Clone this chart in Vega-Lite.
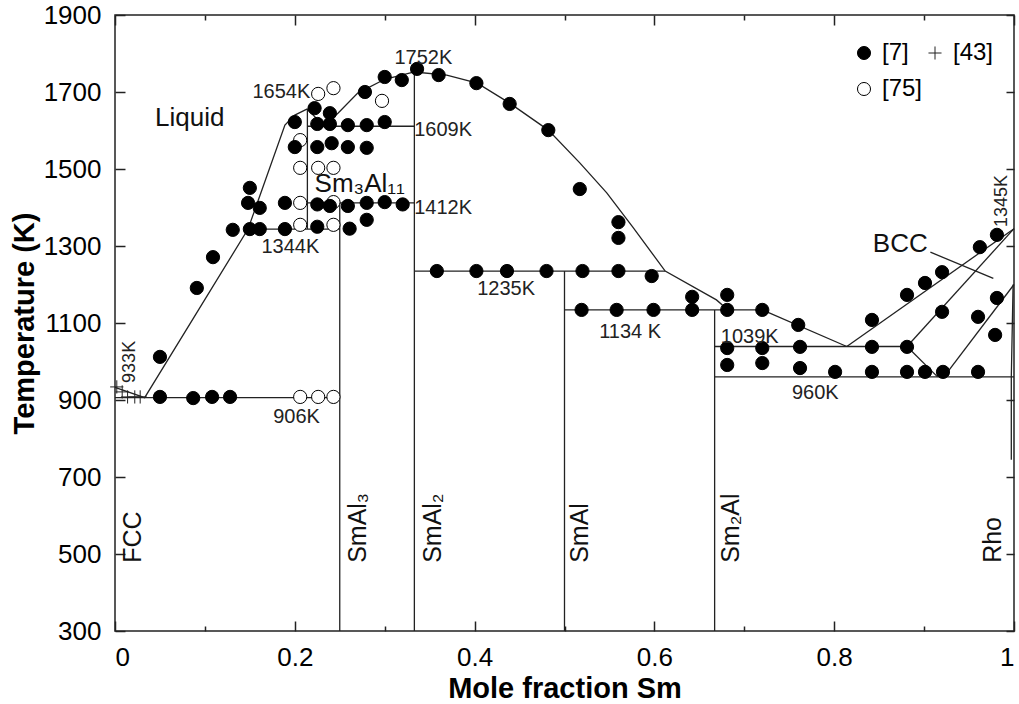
{
  "$schema": "https://vega.github.io/schema/vega-lite/v6.json",
  "width": 899,
  "height": 616,
  "autosize": {"type": "none"},
  "padding": {"left": 115, "top": 15, "right": 5, "bottom": 73},
  "background": "white",
  "config": {
    "view": {"stroke": "#222", "strokeWidth": 1.5},
    "font": "Liberation Sans",
    "axis": {"domain": false, "grid": false, "tickColor": "#222", "tickWidth": 1.5, "labelColor": "black", "titleColor": "black", "labelFont": "Liberation Sans", "titleFont": "Liberation Sans", "zindex": 1}
  },
  "datasets": {
    "lines": [
      {"seg": "liqL", "ord": 1, "x": 0, "T": 933}, {"seg": "liqL", "ord": 2, "x": 0.033, "T": 906}, {"seg": "liqL", "ord": 3, "x": 0.09, "T": 1123}, {"seg": "liqL", "ord": 4, "x": 0.148, "T": 1344}, {"seg": "liqL", "ord": 5, "x": 0.189, "T": 1614}, {"seg": "liqL", "ord": 6, "x": 0.2, "T": 1640}, {"seg": "liqL", "ord": 7, "x": 0.214, "T": 1656},
      {"seg": "liqM", "ord": 1, "x": 0.214, "T": 1656}, {"seg": "liqM", "ord": 2, "x": 0.232, "T": 1612}, {"seg": "liqM", "ord": 3, "x": 0.248, "T": 1645}, {"seg": "liqM", "ord": 4, "x": 0.27, "T": 1697}, {"seg": "liqM", "ord": 5, "x": 0.3, "T": 1733}, {"seg": "liqM", "ord": 6, "x": 0.333, "T": 1752},
      {"seg": "liqR", "ord": 1, "x": 0.333, "T": 1752}, {"seg": "liqR", "ord": 2, "x": 0.369, "T": 1744}, {"seg": "liqR", "ord": 3, "x": 0.403, "T": 1723}, {"seg": "liqR", "ord": 4, "x": 0.439, "T": 1671}, {"seg": "liqR", "ord": 5, "x": 0.482, "T": 1601}, {"seg": "liqR", "ord": 6, "x": 0.517, "T": 1516}, {"seg": "liqR", "ord": 7, "x": 0.547, "T": 1438}, {"seg": "liqR", "ord": 8, "x": 0.576, "T": 1349}, {"seg": "liqR", "ord": 9, "x": 0.612, "T": 1235}, {"seg": "liqR", "ord": 10, "x": 0.669, "T": 1160}, {"seg": "liqR", "ord": 11, "x": 0.681, "T": 1136},
      {"seg": "liqR2", "ord": 1, "x": 0.72, "T": 1134}, {"seg": "liqR2", "ord": 2, "x": 0.814, "T": 1039},
      {"seg": "h906", "ord": 1, "x": 0, "T": 906}, {"seg": "h906", "ord": 2, "x": 0.25, "T": 906},
      {"seg": "h1344", "ord": 1, "x": 0.148, "T": 1344}, {"seg": "h1344", "ord": 2, "x": 0.25, "T": 1344},
      {"seg": "h1412", "ord": 1, "x": 0.214, "T": 1412}, {"seg": "h1412", "ord": 2, "x": 0.333, "T": 1412},
      {"seg": "h1609", "ord": 1, "x": 0.214, "T": 1611}, {"seg": "h1609", "ord": 2, "x": 0.333, "T": 1611},
      {"seg": "h1235", "ord": 1, "x": 0.333, "T": 1235}, {"seg": "h1235", "ord": 2, "x": 0.612, "T": 1235},
      {"seg": "h1134", "ord": 1, "x": 0.5, "T": 1134}, {"seg": "h1134", "ord": 2, "x": 0.72, "T": 1134},
      {"seg": "h1039", "ord": 1, "x": 0.667, "T": 1039}, {"seg": "h1039", "ord": 2, "x": 0.881, "T": 1039},
      {"seg": "h960", "ord": 1, "x": 0.667, "T": 960}, {"seg": "h960", "ord": 2, "x": 1, "T": 960},
      {"seg": "vSm3Al11", "ord": 1, "x": 0.214, "T": 1344}, {"seg": "vSm3Al11", "ord": 2, "x": 0.214, "T": 1656},
      {"seg": "vSmAl3", "ord": 1, "x": 0.25, "T": 300}, {"seg": "vSmAl3", "ord": 2, "x": 0.25, "T": 1412},
      {"seg": "vSmAl2", "ord": 1, "x": 0.333, "T": 300}, {"seg": "vSmAl2", "ord": 2, "x": 0.333, "T": 1752},
      {"seg": "vSmAl", "ord": 1, "x": 0.5, "T": 300}, {"seg": "vSmAl", "ord": 2, "x": 0.5, "T": 1235},
      {"seg": "vSm2Al", "ord": 1, "x": 0.667, "T": 300}, {"seg": "vSm2Al", "ord": 2, "x": 0.667, "T": 1134},
      {"seg": "bccL", "ord": 1, "x": 0.814, "T": 1039}, {"seg": "bccL", "ord": 2, "x": 1, "T": 1345},
      {"seg": "bccS", "ord": 1, "x": 0.881, "T": 1039}, {"seg": "bccS", "ord": 2, "x": 1, "T": 1345},
      {"seg": "d1", "ord": 1, "x": 0.881, "T": 1039}, {"seg": "d1", "ord": 2, "x": 0.915, "T": 960},
      {"seg": "d2", "ord": 1, "x": 0.922, "T": 960}, {"seg": "d2", "ord": 2, "x": 1, "T": 1200},
      {"seg": "rho", "ord": 1, "x": 0.999, "T": 1200}, {"seg": "rho", "ord": 2, "x": 0.997, "T": 960}, {"seg": "rho", "ord": 3, "x": 0.997, "T": 745},
      {"seg": "bccptr", "ord": 1, "x": 0.907, "T": 1284}, {"seg": "bccptr", "ord": 2, "x": 0.977, "T": 1216}
    ],
    "pts": [
      {"src": "[75]", "x": 0.226, "T": 1695}, {"src": "[75]", "x": 0.243, "T": 1710}, {"src": "[75]", "x": 0.297, "T": 1677}, {"src": "[75]", "x": 0.206, "T": 1575}, {"src": "[75]", "x": 0.206, "T": 1503}, {"src": "[75]", "x": 0.226, "T": 1503}, {"src": "[75]", "x": 0.243, "T": 1503}, {"src": "[75]", "x": 0.206, "T": 1412}, {"src": "[75]", "x": 0.243, "T": 1414}, {"src": "[75]", "x": 0.206, "T": 1355}, {"src": "[75]", "x": 0.243, "T": 1355}, {"src": "[75]", "x": 0.206, "T": 908}, {"src": "[75]", "x": 0.226, "T": 908}, {"src": "[75]", "x": 0.243, "T": 908},
      {"src": "[43]", "x": 0.002, "T": 934}, {"src": "[43]", "x": 0.008, "T": 921}, {"src": "[43]", "x": 0.014, "T": 908}, {"src": "[43]", "x": 0.022, "T": 908}, {"src": "[43]", "x": 0.028, "T": 908},
      {"src": "[7]", "x": 0.05, "T": 1012}, {"src": "[7]", "x": 0.091, "T": 1191}, {"src": "[7]", "x": 0.109, "T": 1271}, {"src": "[7]", "x": 0.131, "T": 1342},
      {"src": "[7]", "x": 0.15, "T": 1344}, {"src": "[7]", "x": 0.161, "T": 1344}, {"src": "[7]", "x": 0.189, "T": 1344}, {"src": "[7]", "x": 0.225, "T": 1350}, {"src": "[7]", "x": 0.261, "T": 1345}, {"src": "[7]", "x": 0.28, "T": 1368},
      {"src": "[7]", "x": 0.148, "T": 1412}, {"src": "[7]", "x": 0.161, "T": 1399}, {"src": "[7]", "x": 0.189, "T": 1412}, {"src": "[7]", "x": 0.225, "T": 1408}, {"src": "[7]", "x": 0.239, "T": 1404}, {"src": "[7]", "x": 0.259, "T": 1404}, {"src": "[7]", "x": 0.28, "T": 1412}, {"src": "[7]", "x": 0.3, "T": 1414}, {"src": "[7]", "x": 0.32, "T": 1408},
      {"src": "[7]", "x": 0.15, "T": 1451},
      {"src": "[7]", "x": 0.2, "T": 1622}, {"src": "[7]", "x": 0.225, "T": 1617}, {"src": "[7]", "x": 0.239, "T": 1617}, {"src": "[7]", "x": 0.259, "T": 1614}, {"src": "[7]", "x": 0.28, "T": 1614}, {"src": "[7]", "x": 0.3, "T": 1622},
      {"src": "[7]", "x": 0.222, "T": 1658}, {"src": "[7]", "x": 0.239, "T": 1645},
      {"src": "[7]", "x": 0.2, "T": 1557}, {"src": "[7]", "x": 0.225, "T": 1557}, {"src": "[7]", "x": 0.241, "T": 1567}, {"src": "[7]", "x": 0.259, "T": 1557}, {"src": "[7]", "x": 0.28, "T": 1555},
      {"src": "[7]", "x": 0.278, "T": 1700}, {"src": "[7]", "x": 0.3, "T": 1739}, {"src": "[7]", "x": 0.319, "T": 1731}, {"src": "[7]", "x": 0.336, "T": 1760}, {"src": "[7]", "x": 0.36, "T": 1744},
      {"src": "[7]", "x": 0.402, "T": 1723}, {"src": "[7]", "x": 0.439, "T": 1669}, {"src": "[7]", "x": 0.482, "T": 1601}, {"src": "[7]", "x": 0.517, "T": 1448}, {"src": "[7]", "x": 0.56, "T": 1362}, {"src": "[7]", "x": 0.56, "T": 1321},
      {"src": "[7]", "x": 0.358, "T": 1235}, {"src": "[7]", "x": 0.402, "T": 1235}, {"src": "[7]", "x": 0.436, "T": 1235}, {"src": "[7]", "x": 0.48, "T": 1235}, {"src": "[7]", "x": 0.52, "T": 1235}, {"src": "[7]", "x": 0.56, "T": 1235}, {"src": "[7]", "x": 0.597, "T": 1222},
      {"src": "[7]", "x": 0.519, "T": 1134}, {"src": "[7]", "x": 0.558, "T": 1134}, {"src": "[7]", "x": 0.599, "T": 1134}, {"src": "[7]", "x": 0.642, "T": 1134}, {"src": "[7]", "x": 0.642, "T": 1168}, {"src": "[7]", "x": 0.681, "T": 1173}, {"src": "[7]", "x": 0.681, "T": 1134}, {"src": "[7]", "x": 0.72, "T": 1134}, {"src": "[7]", "x": 0.76, "T": 1095},
      {"src": "[7]", "x": 0.681, "T": 1035}, {"src": "[7]", "x": 0.681, "T": 991}, {"src": "[7]", "x": 0.72, "T": 1035}, {"src": "[7]", "x": 0.72, "T": 996}, {"src": "[7]", "x": 0.762, "T": 1038}, {"src": "[7]", "x": 0.762, "T": 983}, {"src": "[7]", "x": 0.801, "T": 973}, {"src": "[7]", "x": 0.842, "T": 1108}, {"src": "[7]", "x": 0.842, "T": 1038}, {"src": "[7]", "x": 0.842, "T": 973},
      {"src": "[7]", "x": 0.881, "T": 1173}, {"src": "[7]", "x": 0.881, "T": 1038}, {"src": "[7]", "x": 0.881, "T": 973}, {"src": "[7]", "x": 0.901, "T": 1204}, {"src": "[7]", "x": 0.901, "T": 973}, {"src": "[7]", "x": 0.92, "T": 1232}, {"src": "[7]", "x": 0.92, "T": 1129}, {"src": "[7]", "x": 0.921, "T": 973},
      {"src": "[7]", "x": 0.962, "T": 1297}, {"src": "[7]", "x": 0.96, "T": 1116}, {"src": "[7]", "x": 0.96, "T": 973}, {"src": "[7]", "x": 0.981, "T": 1329}, {"src": "[7]", "x": 0.981, "T": 1165}, {"src": "[7]", "x": 0.979, "T": 1069},
      {"src": "[7]", "x": 0.05, "T": 908}, {"src": "[7]", "x": 0.087, "T": 905}, {"src": "[7]", "x": 0.108, "T": 908}, {"src": "[7]", "x": 0.128, "T": 908}
    ],
    "smallLabels": [
      {"label": "1654K", "x": 0.185, "T": 1700}, {"label": "1752K", "x": 0.343, "T": 1788}, {"label": "1609K", "x": 0.365, "T": 1601}, {"label": "1412K", "x": 0.365, "T": 1399}, {"label": "1344K", "x": 0.195, "T": 1297}, {"label": "1235K", "x": 0.435, "T": 1188}, {"label": "1134 K", "x": 0.573, "T": 1077}, {"label": "1039K", "x": 0.706, "T": 1064}, {"label": "960K", "x": 0.779, "T": 918}, {"label": "906K", "x": 0.202, "T": 856}
    ],
    "phaseLabels": [
      {"label": "Liquid", "x": 0.0445, "T": 1612}, {"label": "Sm₃Al₁₁", "x": 0.222, "T": 1441}, {"label": "BCC", "x": 0.843, "T": 1284}
    ],
    "vertLabels": [
      {"label": "FCC", "x": 0.02, "T": 477}, {"label": "SmAl₃", "x": 0.27, "T": 477}, {"label": "SmAl₂", "x": 0.354, "T": 477}, {"label": "SmAl", "x": 0.517, "T": 477}, {"label": "Sm₂Al", "x": 0.685, "T": 477}, {"label": "Rho", "x": 0.977, "T": 477}
    ],
    "vertSmall": [
      {"label": "933K", "x": 0.017, "T": 999}, {"label": "1345K", "x": 0.987, "T": 1417}
    ]
  },
  "layer": [
    {
      "data": {"name": "lines"},
      "mark": {"type": "line", "color": "#222", "strokeWidth": 1.3},
      "encoding": {
        "x": {"field": "x", "type": "quantitative", "scale": {"domain": [0, 1], "nice": false, "zero": false},
              "axis": {"orient": "bottom", "values": [0, 0.2, 0.4, 0.6, 0.8, 1], "format": "~g", "ticks": false, "labelPadding": 13, "labelFontSize": 26, "title": "Mole fraction Sm", "titleFontSize": 29, "titleFontWeight": "bold", "titleBaseline": "alphabetic", "titleY": 66}},
        "y": {"field": "T", "type": "quantitative", "scale": {"domain": [300, 1900], "nice": false, "zero": false},
              "axis": {"orient": "left", "values": [300, 500, 700, 900, 1100, 1300, 1500, 1700, 1900], "format": "d", "ticks": false, "labelPadding": 14, "labelFontSize": 26, "title": "Temperature (K)", "titleFontSize": 29, "titleFontWeight": "bold", "titleBaseline": "alphabetic", "titleX": -82}},
        "detail": {"field": "seg", "type": "nominal"},
        "order": {"field": "ord", "type": "quantitative"}
      }
    },
    {
      "data": {"name": "pts"},
      "mark": {"type": "point", "filled": true, "size": 175, "strokeWidth": 1, "opacity": 1},
      "encoding": {
        "x": {"field": "x", "type": "quantitative", "scale": {"domain": [0, 1], "nice": false, "zero": false},
              "axis": {"orient": "bottom", "offset": -10, "values": [0, 0.2, 0.4, 0.6, 0.8, 1], "tickSize": 10, "labels": false, "title": null}},
        "y": {"field": "T", "type": "quantitative", "scale": {"domain": [300, 1900], "nice": false, "zero": false},
              "axis": {"orient": "left", "offset": -10, "values": [300, 500, 700, 900, 1100, 1300, 1500, 1700, 1900], "tickSize": 10, "labels": false, "title": null}},
        "shape": {"field": "src", "type": "nominal", "scale": {"domain": ["[7]", "[75]", "[43]"], "range": ["circle", "circle", "M-1,0H1M0,-1V1"]},
                  "legend": {"orient": "none", "legendX": 737, "legendY": 26, "columns": 2, "title": null, "labelFontSize": 24, "labelFont": "Liberation Sans", "labelColor": "black", "symbolSize": 170, "symbolStrokeWidth": 1, "labelOffset": 6, "columnPadding": 0, "rowPadding": 12, "padding": 0}},
        "fill": {"field": "src", "type": "nominal", "scale": {"domain": ["[7]", "[75]", "[43]"], "range": ["black", "white", "transparent"]},
                 "legend": {"orient": "none", "legendX": 737, "legendY": 26, "columns": 2, "title": null, "labelFontSize": 24, "labelFont": "Liberation Sans", "labelColor": "black", "symbolSize": 170, "symbolStrokeWidth": 1, "labelOffset": 6, "columnPadding": 0, "rowPadding": 12, "padding": 0}},
        "stroke": {"field": "src", "type": "nominal", "scale": {"domain": ["[7]", "[75]", "[43]"], "range": ["black", "black", "#222"]},
                 "legend": {"orient": "none", "legendX": 737, "legendY": 26, "columns": 2, "title": null, "labelFontSize": 24, "labelFont": "Liberation Sans", "labelColor": "black", "symbolSize": 170, "symbolStrokeWidth": 1, "labelOffset": 6, "columnPadding": 0, "rowPadding": 12, "padding": 0}}
      }
    },
    {
      "data": {"name": "smallLabels"},
      "mark": {"type": "text", "font": "Liberation Sans", "fontSize": 20, "align": "center", "baseline": "middle", "color": "#222"},
      "encoding": {
        "x": {"field": "x", "type": "quantitative", "scale": {"domain": [0, 1], "nice": false, "zero": false},
              "axis": {"orient": "top", "offset": -10, "values": [0, 0.2, 0.4, 0.6, 0.8, 1], "tickSize": 10, "labels": false, "title": null}},
        "y": {"field": "T", "type": "quantitative", "scale": {"domain": [300, 1900], "nice": false, "zero": false},
              "axis": {"orient": "right", "offset": -8, "values": [300, 500, 700, 900, 1100, 1300, 1500, 1700, 1900], "tickSize": 8, "labels": false, "title": null}},
        "text": {"field": "label", "type": "nominal"}
      }
    },
    {
      "data": {"name": "phaseLabels"},
      "mark": {"type": "text", "font": "Liberation Sans", "fontSize": 26, "align": "left", "baseline": "alphabetic", "color": "#111"},
      "encoding": {
        "x": {"field": "x", "type": "quantitative", "scale": {"domain": [0, 1], "nice": false, "zero": false},
              "axis": {"orient": "bottom", "offset": -5, "values": [0.1, 0.3, 0.5, 0.7, 0.9], "tickSize": 5, "labels": false, "title": null}},
        "y": {"field": "T", "type": "quantitative", "scale": {"domain": [300, 1900], "nice": false, "zero": false}, "axis": null},
        "text": {"field": "label", "type": "nominal"}
      }
    },
    {
      "data": {"name": "vertLabels"},
      "mark": {"type": "text", "font": "Liberation Sans", "fontSize": 25, "angle": 270, "align": "left", "baseline": "middle", "color": "#111"},
      "encoding": {
        "x": {"field": "x", "type": "quantitative", "scale": {"domain": [0, 1], "nice": false, "zero": false},
              "axis": {"orient": "top", "offset": -5, "values": [0.1, 0.3, 0.5, 0.7, 0.9], "tickSize": 5, "labels": false, "title": null}},
        "y": {"field": "T", "type": "quantitative", "scale": {"domain": [300, 1900], "nice": false, "zero": false}, "axis": null},
        "text": {"field": "label", "type": "nominal"}
      }
    },
    {
      "data": {"name": "vertSmall"},
      "mark": {"type": "text", "font": "Liberation Sans", "fontSize": 18, "angle": 270, "align": "center", "baseline": "middle", "color": "#222"},
      "encoding": {
        "x": {"field": "x", "type": "quantitative", "scale": {"domain": [0, 1], "nice": false, "zero": false}, "axis": null},
        "y": {"field": "T", "type": "quantitative", "scale": {"domain": [300, 1900], "nice": false, "zero": false}, "axis": null},
        "text": {"field": "label", "type": "nominal"}
      }
    }
  ],
  "resolve": {"scale": {"x": "independent", "y": "independent"}, "axis": {"x": "independent", "y": "independent"}}
}
